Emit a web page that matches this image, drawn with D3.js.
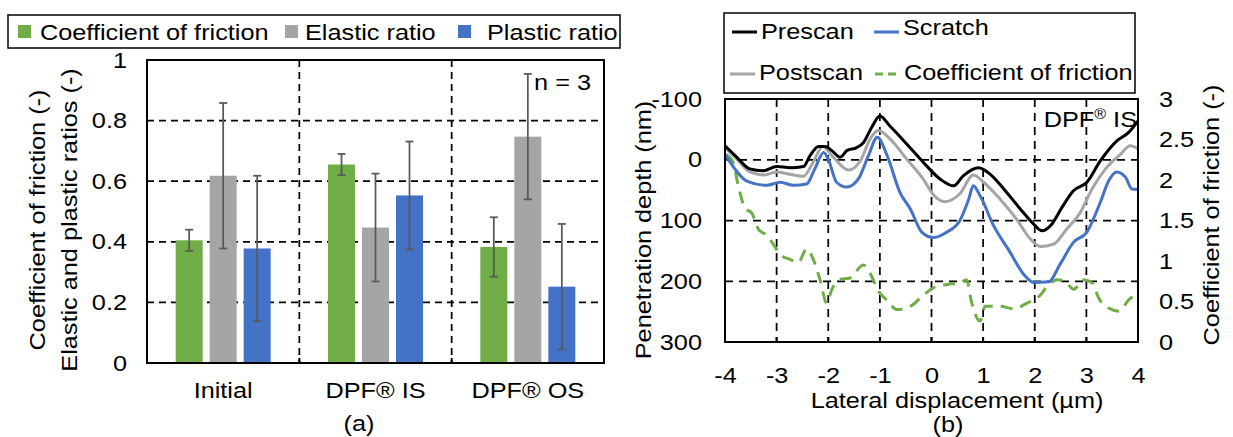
<html>
<head>
<meta charset="utf-8">
<style>
  body { margin: 0; background: #fff; }
  text { font-family: "Liberation Sans", Arial, sans-serif; font-size: 22px; fill: #000; }
</style>
</head>
<body>
<script src="https://d3js.org/d3.v7.min.js"></script>
<script>
// ---- data: panel (a) ----
const categories = ["Initial", "DPF® IS", "DPF® OS"];
const seriesNames = ["Coefficient of friction", "Elastic ratio", "Plastic ratio"];
const seriesColors = ["#70ad47", "#a5a5a5", "#4472c4"];
const cofMean = [0.405, 0.655, 0.383];
const cofErr = [0.035, 0.035, 0.098];
const elasticMean = [0.618, 0.447, 0.747];
const elasticErr = [0.24, 0.178, 0.207];
const plasticMean = [0.378, 0.553, 0.252];
const plasticErr = [0.24, 0.178, 0.207];
const barTicks = [0, 0.2, 0.4, 0.6, 0.8, 1];

// ---- data: panel (b), [lateral displacement um, value] ----
const prescan = [[-4,-23],[-3.77,-4],[-3.52,15],[-3.26,18],[-3,11],[-2.74,13],[-2.48,11],[-2.35,-7],[-2.19,-22],[-2.06,-22],[-1.93,-15],[-1.77,-4],[-1.64,-15],[-1.45,-20],[-1.32,-28],[-1.16,-53],[-1,-72],[-0.81,-56],[-0.48,-26],[-0.16,4],[0.17,32],[0.43,43],[0.62,26],[0.91,13],[1.14,24],[1.4,48],[1.72,81],[1.98,106],[2.14,117],[2.33,106],[2.53,78],[2.75,51],[3.01,37],[3.27,2],[3.59,-31],[3.82,-45],[4,-64]];
const postscan = [[-4,-20],[-3.77,-1],[-3.52,20],[-3.23,25],[-3,20],[-2.74,24],[-2.48,27],[-2.29,4],[-2.11,-22],[-1.9,-4],[-1.61,17],[-1.38,2],[-1.19,-34],[-1.03,-48],[-0.8,-34],[-0.48,-1],[-0.16,32],[0.04,58],[0.26,69],[0.55,56],[0.81,25],[1.01,37],[1.33,65],[1.65,98],[1.91,130],[2.11,143],[2.36,139],[2.62,114],[2.88,87],[3.11,48],[3.37,15],[3.66,-9],[3.85,-23],[4,-18]];
const scratch = [[-4,-9],[-3.81,15],[-3.58,35],[-3.19,42],[-2.93,37],[-2.68,42],[-2.42,40],[-2.26,15],[-2.09,-12],[-2,-1],[-1.84,37],[-1.64,45],[-1.42,32],[-1.22,-7],[-1.05,-37],[-0.86,-7],[-0.61,54],[-0.41,81],[-0.19,119],[0.04,128],[0.3,119],[0.55,100],[0.72,65],[0.81,43],[0.94,59],[1.2,108],[1.52,152],[1.78,188],[1.98,202],[2.27,201],[2.49,172],[2.75,136],[3.01,119],[3.27,70],[3.43,35],[3.59,20],[3.76,29],[3.88,48],[4,49]];
const friction = [[-3.97,2.31],[-3.84,2.21],[-3.74,1.92],[-3.61,1.65],[-3.48,1.59],[-3.35,1.39],[-3.22,1.33],[-3.1,1.24],[-2.93,1.08],[-2.74,1.02],[-2.58,0.98],[-2.42,1.15],[-2.29,1.02],[-2.16,0.77],[-2.03,0.48],[-1.93,0.65],[-1.77,0.77],[-1.58,0.79],[-1.32,0.95],[-1.19,0.85],[-1.03,0.63],[-0.87,0.52],[-0.67,0.4],[-0.41,0.44],[-0.22,0.54],[0.04,0.67],[0.3,0.71],[0.55,0.73],[0.68,0.77],[0.78,0.48],[0.94,0.26],[1.04,0.44],[1.33,0.44],[1.59,0.41],[1.85,0.48],[2.11,0.58],[2.27,0.71],[2.43,0.77],[2.62,0.73],[2.75,0.65],[2.95,0.77],[3.11,0.73],[3.24,0.54],[3.43,0.42],[3.63,0.38],[3.82,0.52],[4,0.6]];
const lateralTicks = [-4, -3, -2, -1, 0, 1, 2, 3, 4];
const depthTicks = [-100, 0, 100, 200, 300];
const frictionTicks = [0, 0.5, 1, 1.5, 2, 2.5, 3];

const SX = 1.15; // text in the source is a little wide
const plain = d => String(d); // keep ASCII hyphen for negatives

const svg = d3.select("body").append("svg")
  .attr("width", 1233).attr("height", 437);
svg.append("rect").attr("width", 1233).attr("height", 437).attr("fill", "#fff");

// helper for stretched text
function label(g, x, y, s, anchor, rot) {
  return g.append("text")
    .attr("transform", `translate(${x},${y})` + (rot ? " rotate(-90)" : "") + ` scale(${SX},1)`)
    .attr("text-anchor", anchor || "start")
    .text(s);
}
function stretchAxis(g) {
  g.select(".domain").remove();
  g.selectAll(".tick line").remove();
  g.selectAll("text")
    .style("font-size", "22px")
    .style("font-family", '"Liberation Sans", Arial, sans-serif')
    .attr("transform", `scale(${SX},1)`);
}

// ================= panel (a) =================
const A = { left: 147, right: 604, top: 60, bottom: 363 };
const xA = d3.scaleBand().domain(categories).range([A.left, A.right]);
const xInner = d3.scaleBand().domain(seriesNames).range([-47.5, 47.5]).paddingInner(0.206);
const yA = d3.scaleLinear().domain([0, 1]).range([A.bottom, A.top]);
const ga = svg.append("g");

// grid
ga.append("g").selectAll("line").data(barTicks.slice(1, -1)).join("line")
  .attr("x1", A.left).attr("x2", A.right)
  .attr("y1", d => yA(d)).attr("y2", d => yA(d))
  .attr("stroke", "#000").attr("stroke-width", 1.75).attr("stroke-dasharray", "7,5");
ga.append("g").selectAll("line").data(categories.slice(1)).join("line")
  .attr("x1", d => xA(d)).attr("x2", d => xA(d))
  .attr("y1", A.top).attr("y2", A.bottom)
  .attr("stroke", "#000").attr("stroke-width", 1.75).attr("stroke-dasharray", "7,5");

const means = [cofMean, elasticMean, plasticMean];
const errs = [cofErr, elasticErr, plasticErr];
const barData = [];
categories.forEach((c, i) => seriesNames.forEach((s, j) => {
  barData.push({ c, s, j, v: means[j][i], e: errs[j][i] });
}));
const bx = d => xA(d.c) + xA.bandwidth() / 2 + xInner(d.s);
const bc = d => bx(d) + xInner.bandwidth() / 2;

ga.append("g").selectAll("rect").data(barData).join("rect")
  .attr("x", bx).attr("width", xInner.bandwidth())
  .attr("y", d => yA(d.v)).attr("height", d => yA(0) - yA(d.v))
  .attr("fill", d => seriesColors[d.j]);

// error bars
const eb = ga.append("g").attr("stroke", "#595959").attr("stroke-width", 1.75);
eb.selectAll(".v").data(barData).join("line").attr("class", "v")
  .attr("x1", bc).attr("x2", bc)
  .attr("y1", d => yA(d.v - d.e)).attr("y2", d => yA(d.v + d.e));
eb.selectAll(".lo").data(barData).join("line").attr("class", "lo")
  .attr("x1", d => bc(d) - 4).attr("x2", d => bc(d) + 4)
  .attr("y1", d => yA(d.v - d.e)).attr("y2", d => yA(d.v - d.e));
eb.selectAll(".hi").data(barData).join("line").attr("class", "hi")
  .attr("x1", d => bc(d) - 4).attr("x2", d => bc(d) + 4)
  .attr("y1", d => yA(d.v + d.e)).attr("y2", d => yA(d.v + d.e));

// frame and category ticks
ga.append("rect").attr("x", A.left).attr("y", A.top)
  .attr("width", A.right - A.left).attr("height", A.bottom - A.top)
  .attr("fill", "none").attr("stroke", "#000").attr("stroke-width", 2);
ga.append("g").selectAll("line").data(categories.slice(1)).join("line")
  .attr("x1", d => xA(d)).attr("x2", d => xA(d))
  .attr("y1", A.bottom).attr("y2", A.bottom - 5)
  .attr("stroke", "#000").attr("stroke-width", 2);

// axes
ga.append("g").attr("transform", "translate(127,0)")
  .call(d3.axisLeft(yA).tickValues(barTicks).tickFormat(plain).tickSize(0).tickPadding(0))
  .call(stretchAxis);
ga.append("g").attr("transform", "translate(0,382)")
  .call(d3.axisBottom(xA).tickSize(0).tickPadding(0))
  .call(stretchAxis);

label(ga, 591, 90, "n = 3", "end");
label(ga, 359, 431, "(a)", "middle");
label(ga, 45, 220, "Coefficient of friction (-)", "middle", true);
label(ga, 77, 220, "Elastic and plastic ratios (-)", "middle", true);

// legend (a)
ga.append("rect").attr("x", 8).attr("y", 15).attr("width", 612).attr("height", 33)
  .attr("fill", "#fff").attr("stroke", "#000").attr("stroke-width", 1.5);
const legA = [{ x: 18, tx: 40 }, { x: 285, tx: 305 }, { x: 458, tx: 487 }];
seriesNames.forEach((s, j) => {
  ga.append("rect").attr("x", legA[j].x).attr("y", 25).attr("width", 13).attr("height", 13)
    .attr("fill", seriesColors[j]);
  label(ga, legA[j].tx, 40, s, "start");
});

// ================= panel (b) =================
const B = { left: 725, right: 1138, top: 99, bottom: 342 };
const xB = d3.scaleLinear().domain([-4, 4]).range([B.left, B.right]);
const yL = d3.scaleLinear().domain([-100, 300]).range([B.top, B.bottom]);
const yR = d3.scaleLinear().domain([0, 3]).range([B.bottom, B.top]);
const gb = svg.append("g");

gb.append("g").selectAll("line").data(depthTicks.slice(1, -1)).join("line")
  .attr("x1", B.left).attr("x2", B.right)
  .attr("y1", d => yL(d)).attr("y2", d => yL(d))
  .attr("stroke", "#000").attr("stroke-width", 1.75).attr("stroke-dasharray", "8,6");
gb.append("g").selectAll("line").data(lateralTicks.slice(1, -1)).join("line")
  .attr("x1", d => xB(d)).attr("x2", d => xB(d))
  .attr("y1", B.top).attr("y2", B.bottom)
  .attr("stroke", "#000").attr("stroke-width", 1.75).attr("stroke-dasharray", "8,6");

const lineL = d3.line().x(d => xB(d[0])).y(d => yL(d[1])).curve(d3.curveMonotoneX);
const lineR = d3.line().x(d => xB(d[0])).y(d => yR(d[1])).curve(d3.curveMonotoneX);

gb.append("path").datum(friction).attr("d", lineR).attr("fill", "none")
  .attr("stroke", "#70ad47").attr("stroke-width", 3).attr("stroke-dasharray", "12,8");
gb.append("path").datum(postscan).attr("d", lineL).attr("fill", "none")
  .attr("stroke", "#a5a5a5").attr("stroke-width", 3);
gb.append("path").datum(scratch).attr("d", lineL).attr("fill", "none")
  .attr("stroke", "#4472c4").attr("stroke-width", 3);
gb.append("path").datum(prescan).attr("d", lineL).attr("fill", "none")
  .attr("stroke", "#000").attr("stroke-width", 3);

gb.append("rect").attr("x", B.left).attr("y", B.top)
  .attr("width", B.right - B.left).attr("height", B.bottom - B.top)
  .attr("fill", "none").attr("stroke", "#000").attr("stroke-width", 2);
gb.append("g").selectAll("line").data(lateralTicks.slice(1, -1)).join("line")
  .attr("x1", d => xB(d)).attr("x2", d => xB(d))
  .attr("y1", B.bottom).attr("y2", B.bottom - 5)
  .attr("stroke", "#000").attr("stroke-width", 2);

gb.append("g").attr("transform", "translate(702,0)")
  .call(d3.axisLeft(yL).tickValues(depthTicks).tickFormat(plain).tickSize(0).tickPadding(0))
  .call(stretchAxis);
gb.append("g").attr("transform", "translate(1159,0)")
  .call(d3.axisRight(yR).tickValues(frictionTicks).tickFormat(plain).tickSize(0).tickPadding(0))
  .call(stretchAxis);
gb.append("g").attr("transform", "translate(0,367)")
  .call(d3.axisBottom(xB).tickValues(lateralTicks).tickFormat(plain).tickSize(0).tickPadding(0))
  .call(stretchAxis);

label(gb, 957, 408, "Lateral displacement (µm)", "middle");
label(gb, 948, 432, "(b)", "middle");
label(gb, 651, 230, "Penetration depth (nm)", "middle", true);
label(gb, 1219, 215, "Coefficient of friction (-)", "middle", true);

const tag = label(gb, 1137, 127, "", "end");
tag.append("tspan").text("DPF");
tag.append("tspan").text("®").style("font-size", "14px").attr("dy", -8);
tag.append("tspan").text(" IS").attr("dy", 8);

// legend (b)
gb.append("rect").attr("x", 724).attr("y", 13).attr("width", 411).attr("height", 80)
  .attr("fill", "#fff").attr("stroke", "#000").attr("stroke-width", 1.5);
const legB = [
  { name: "Prescan", color: "#000", dash: null, x: 732, y: 32, ty: 39 },
  { name: "Scratch", color: "#4472c4", dash: null, x: 874, y: 32, ty: 35 },
  { name: "Postscan", color: "#a5a5a5", dash: null, x: 730, y: 74, ty: 80 },
  { name: "Coefficient of friction", color: "#70ad47", dash: "8,5", x: 875, y: 74, ty: 80 }
];
legB.forEach(d => {
  gb.append("line").attr("x1", d.x).attr("x2", d.x + 25).attr("y1", d.y).attr("y2", d.y)
    .attr("stroke", d.color).attr("stroke-width", 3).attr("stroke-dasharray", d.dash);
  label(gb, d.x + 29, d.ty, d.name, "start");
});
</script>
</body>
</html>
